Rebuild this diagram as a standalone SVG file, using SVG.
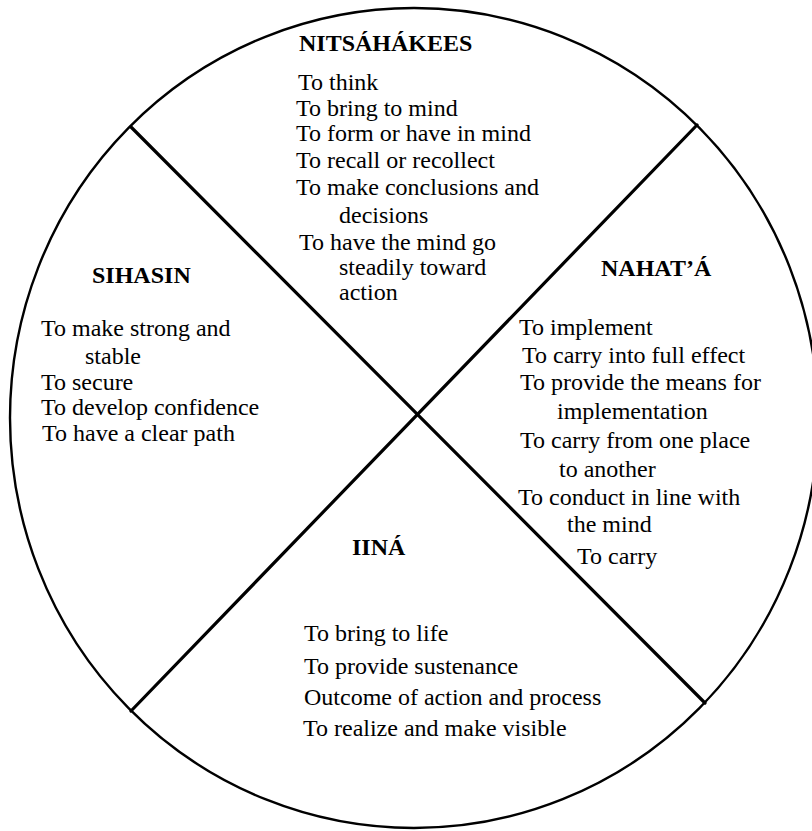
<svg xmlns="http://www.w3.org/2000/svg" width="812" height="831" viewBox="0 0 812 831">
<style>
text{font-family:"Liberation Serif","Times New Roman","DejaVu Serif",serif;font-size:24px;fill:#000}
.h{font-weight:bold}
.ring{fill:none;stroke:#000;stroke-width:2.4}
.div{stroke:#000;stroke-width:3.2;stroke-linecap:round}
</style>
<rect width="812" height="831" fill="#fff"/>
<g id="outline"><ellipse class="ring" cx="414" cy="418" rx="404" ry="410"/></g>
<g id="connectors">
<line class="div" x1="131" y1="127" x2="705" y2="703"/>
<line class="div" x1="697" y1="125" x2="131" y2="711"/>
</g>
<g id="nitsahakees" font-family="Liberation Serif, serif">
<text class="h" x="299" y="51">NITSÁHÁKEES</text>
<text x="298" y="90">To think</text>
<text x="296" y="116">To bring to mind</text>
<text x="296" y="141">To form or have in mind</text>
<text x="296" y="168">To recall or recollect</text>
<text x="296" y="195">To make conclusions and</text>
<text x="339" y="223">decisions</text>
<text x="299" y="250">To have the mind go</text>
<text x="339" y="275">steadily toward</text>
<text x="339" y="300">action</text>
</g>
<g id="sihasin" font-family="Liberation Serif, serif">
<text class="h" x="92" y="283">SIHASIN</text>
<text x="41" y="336">To make strong and</text>
<text x="85" y="364">stable</text>
<text x="41" y="390">To secure</text>
<text x="41" y="415">To develop confidence</text>
<text x="42" y="441">To have a clear path</text>
</g>
<g id="nahata" font-family="Liberation Serif, serif">
<text class="h" x="601" y="276">NAHAT’Á</text>
<text x="519" y="335">To implement</text>
<text x="522" y="363">To carry into full effect</text>
<text x="520" y="390">To provide the means for</text>
<text x="557" y="419">implementation</text>
<text x="520" y="448">To carry from one place</text>
<text x="559" y="477">to another</text>
<text x="518" y="505">To conduct in line with</text>
<text x="567" y="532">the mind</text>
<text x="577" y="564">To carry</text>
</g>
<g id="iina" font-family="Liberation Serif, serif">
<text class="h" x="352" y="555">IINÁ</text>
<text x="304" y="641">To bring to life</text>
<text x="304" y="674">To provide sustenance</text>
<text x="304" y="705">Outcome of action and process</text>
<text x="303" y="736">To realize and make visible</text>
</g>
</svg>
